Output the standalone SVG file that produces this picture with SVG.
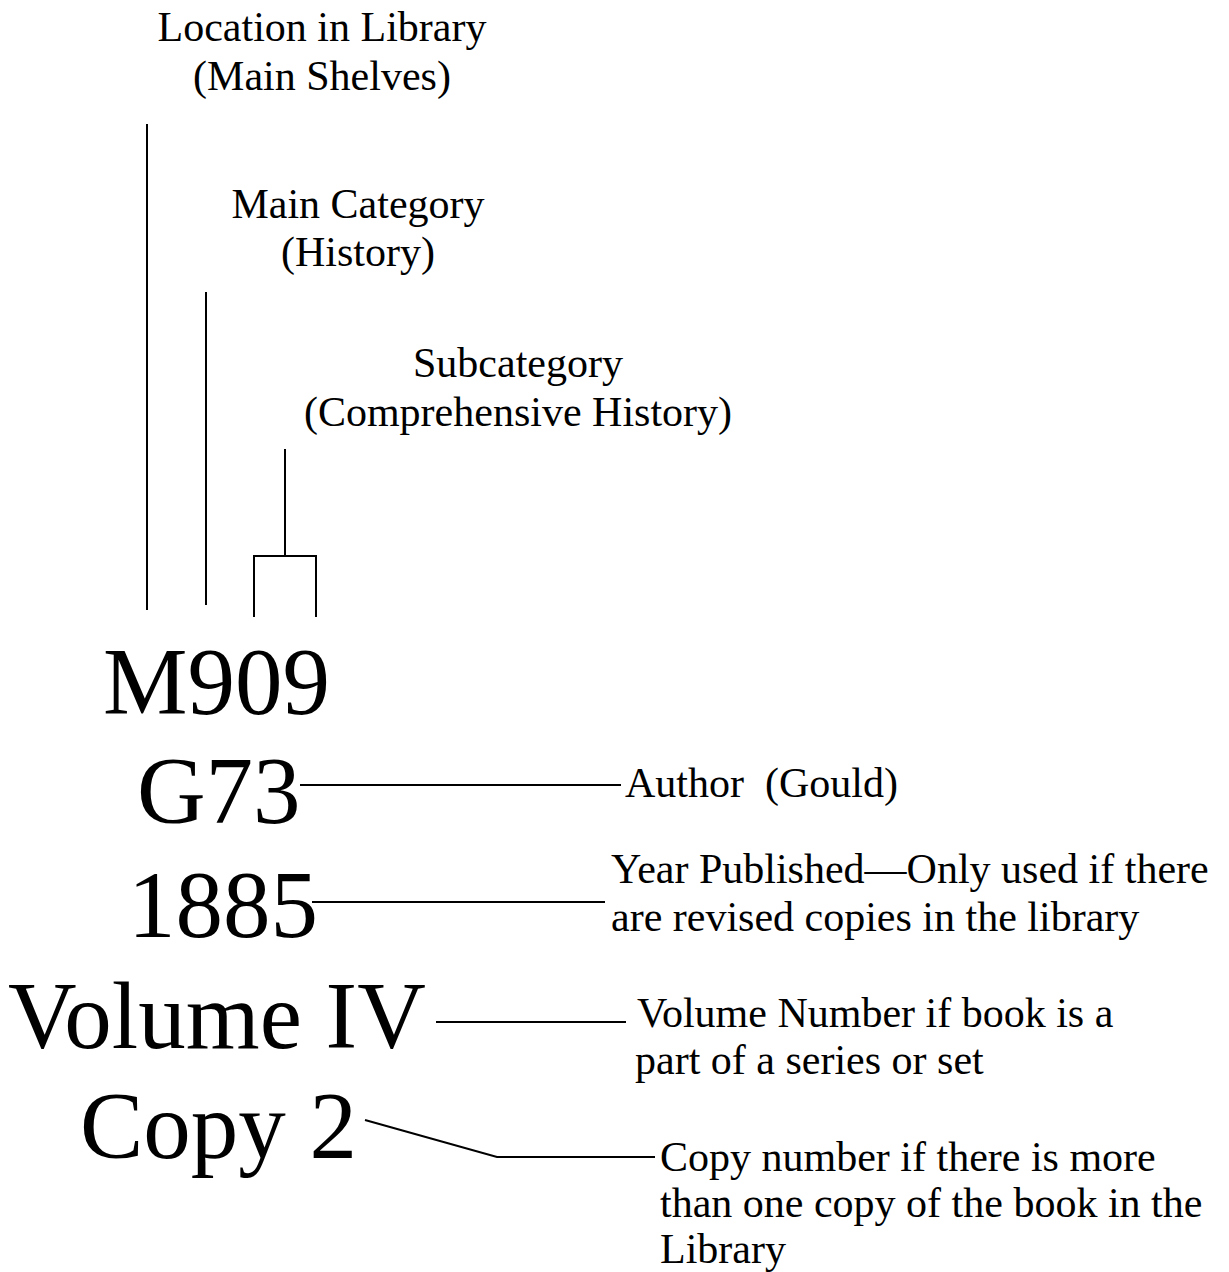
<svg xmlns="http://www.w3.org/2000/svg" width="1229" height="1272" viewBox="0 0 1229 1272">
<style>
text{font-family:"Liberation Serif","Times New Roman",serif;fill:#000}
.lbl{font-size:42px}
.big{font-size:95px}
.c{text-anchor:middle}
line,polyline{stroke:#000;stroke-width:2;fill:none}
</style>
<rect width="1229" height="1272" fill="#fff"/>
<g id="connectors">
<line x1="147" y1="124" x2="147" y2="610"/>
<line x1="206" y1="292" x2="206" y2="605"/>
<line x1="285" y1="449" x2="285" y2="556"/>
<polyline points="254,617 254,556 316,556 316,617"/>
<line x1="300" y1="785" x2="621" y2="785"/>
<line x1="312" y1="902" x2="605" y2="902"/>
<line x1="436" y1="1022" x2="626" y2="1022"/>
<polyline points="365,1120 497,1157 655,1157"/>
</g>
<g id="location"><text class="lbl c" x="322" y="41">Location in Library</text><text class="lbl c" x="322" y="90">(Main Shelves)</text></g>
<g id="maincat"><text class="lbl c" x="358" y="218">Main Category</text><text class="lbl c" x="358" y="266">(History)</text></g>
<g id="subcat"><text class="lbl c" x="518" y="377">Subcategory</text><text class="lbl c" x="518" y="426">(Comprehensive History)</text></g>
<g id="m909"><text class="big" x="103" y="714">M909</text></g>
<g id="g73"><text class="big" x="137" y="823">G73</text></g>
<g id="y1885"><text class="big" x="128" y="937">1885</text></g>
<g id="volume"><text class="big" x="8" y="1048">Volume IV</text></g>
<g id="copy"><text class="big" x="80" y="1158">Copy 2</text></g>
<g id="author"><text class="lbl" x="625" y="797" xml:space="preserve" style="white-space:pre">Author  (Gould)</text></g>
<g id="year"><text class="lbl" x="611" y="883">Year Published—Only used if there</text><text class="lbl" x="611" y="931">are revised copies in the library</text></g>
<g id="volnum"><text class="lbl" x="637" y="1027">Volume Number if book is a</text><text class="lbl" x="635" y="1074">part of a series or set</text></g>
<g id="copynum"><text class="lbl" x="660" y="1171">Copy number if there is more</text><text class="lbl" x="660" y="1217">than one copy of the book in the</text><text class="lbl" x="660" y="1263">Library</text></g>
</svg>
